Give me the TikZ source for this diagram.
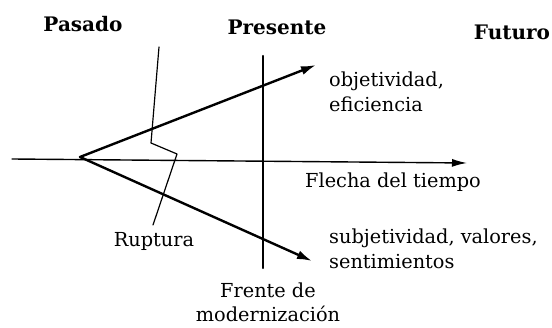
\documentclass[tikz,border=0pt]{standalone}
\usepackage{fontspec}
\setmainfont{DejaVu Serif}
\usetikzlibrary{arrows.meta}

\begin{document}
\begin{tikzpicture}[
  x=1pt,y=-1pt,
  line cap=round,line join=round,
  label/.style={font=\fontsize{19.3}{25}\selectfont,inner sep=0pt},
  era/.style={font=\fontsize{20}{24}\selectfont\bfseries,inner sep=0pt},
  branch/.style={line width=2.4pt,-{Latex[length=15pt,width=9pt]}},
  >=Latex
]
  \useasboundingbox (0,0) rectangle (552,328);

  % Key points
  \coordinate (O)  at (80,157);
  \coordinate (T0) at (12,159);
  \coordinate (T1) at (467,163);
  \coordinate (U)  at (316,65);
  \coordinate (D)  at (312,261);
  \coordinate (F0) at (263,56);
  \coordinate (F1) at (263,268);
  \coordinate (R0) at (159,47);
  \coordinate (R1) at (151,143);
  \coordinate (R2) at (177,154);
  \coordinate (R3) at (153,225);

  % Time axis and branches
  \draw[line width=1.4pt,-{Latex[length=15pt,width=8pt]}] (T0) -- (T1);
  \draw[branch] (O) -- (U);
  \draw[branch] (O) -- (D);

  % Modernisation front
  \draw[line width=2.2pt] (F0) -- (F1);

  % Rupture
  \draw[line width=1.2pt] (R0) -- (R1) -- (R2) -- (R3);

  % Era headings
  \node[era] (pasado)   at (83,24)  {Pasado};
  \node[era] (presente) at (277,27) {Presente};
  \node[era] (futuro)   at (512,32) {Futuro};

  % Labels
  \node[label,anchor=west,align=left] (obj) at (329,92)
    {objetividad,\\eficiencia};
  \node[label,anchor=west] (flecha) at (305,182) {Flecha del tiempo};
  \node[label] (ruptura) at (154,241) {Ruptura};
  \node[label,anchor=west,align=left] (subj) at (329,249)
    {subjetividad, valores,\\sentimientos};
  \node[label,align=center,font=\fontsize{19.3}{24}\selectfont] (frente) at (268,302)
    {Frente de\\modernización};
\end{tikzpicture}
\end{document}
